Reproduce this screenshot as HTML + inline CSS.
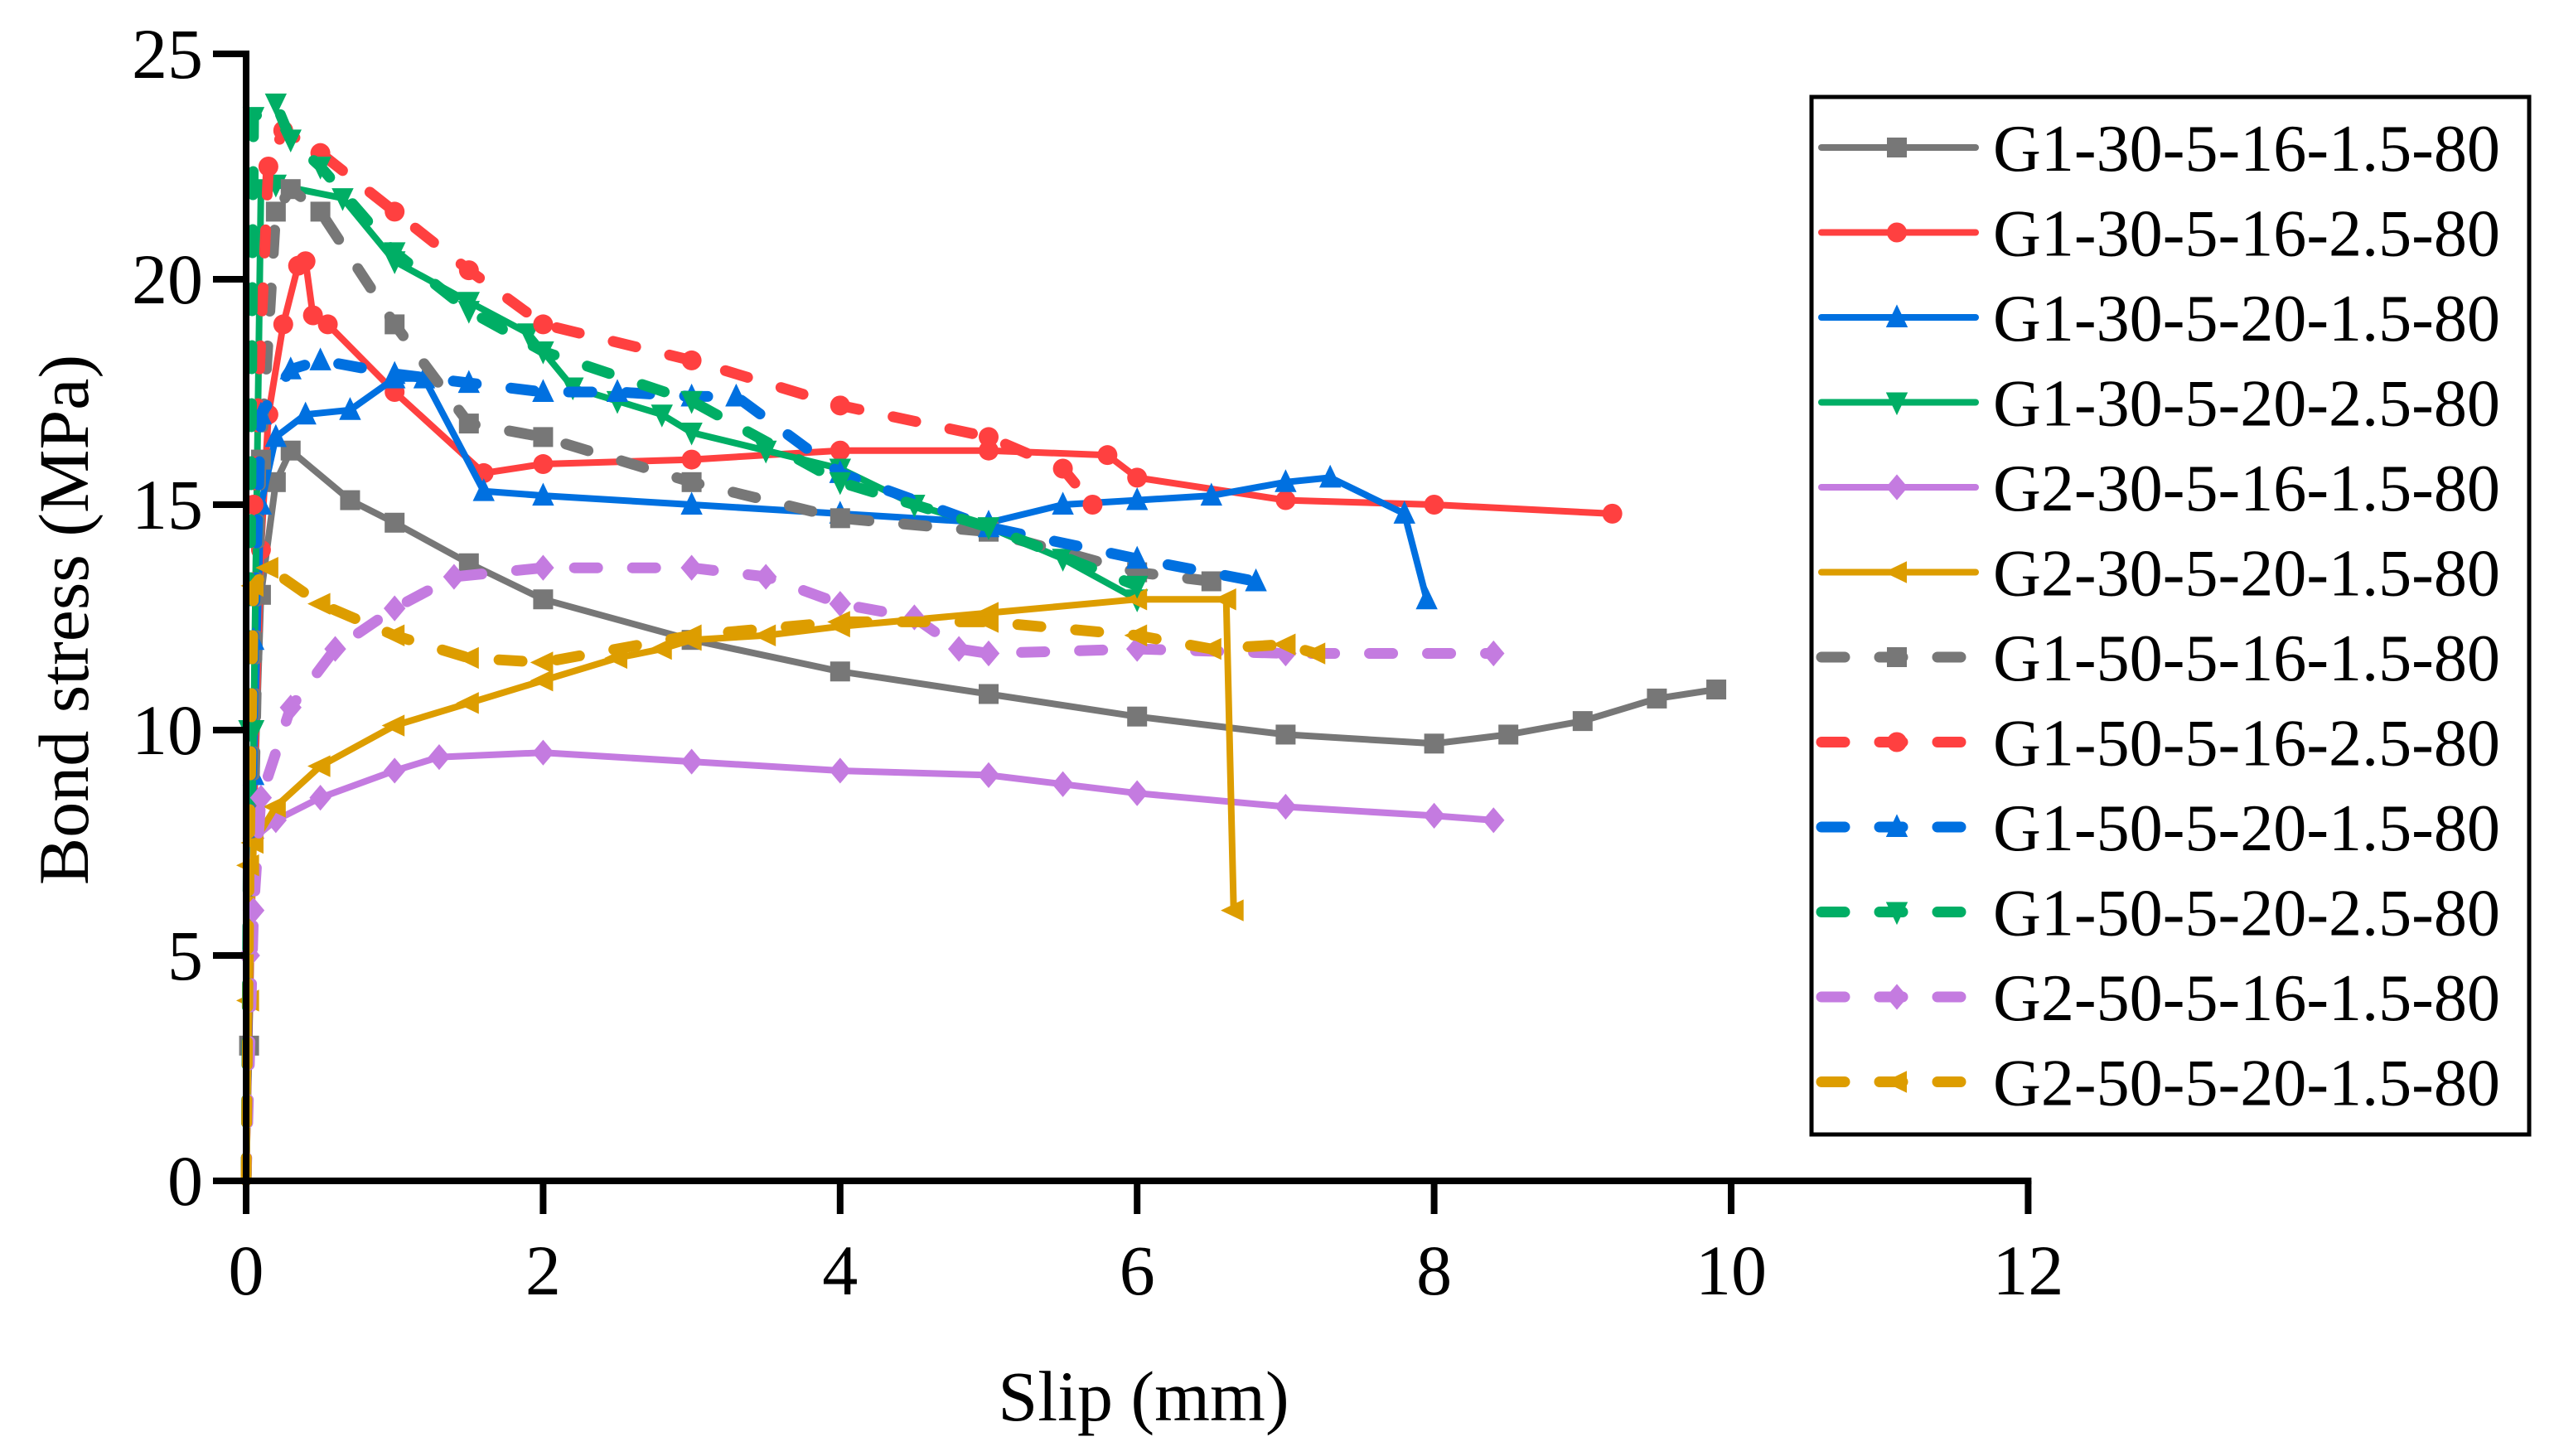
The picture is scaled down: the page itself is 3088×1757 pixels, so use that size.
<!DOCTYPE html>
<html><head><meta charset="utf-8"><style>
html,body{margin:0;padding:0;background:#fff}
svg{display:block}
text{font-family:"Liberation Serif",serif;fill:#000}
</style></head><body>
<svg id="chart" width="3088" height="1757" viewBox="0 0 3088 1757" xmlns="http://www.w3.org/2000/svg">
<g id="plot"></g>
<g id="axes"></g>
<g id="legend"></g>
</svg>
<script>
const xTicks = [0, 2, 4, 6, 8, 10, 12];
const yTicks = [0, 5, 10, 15, 20, 25];
const seriesNames = ["G1-30-5-16-1.5-80","G1-30-5-16-2.5-80","G1-30-5-20-1.5-80","G1-30-5-20-2.5-80","G2-30-5-16-1.5-80","G2-30-5-20-1.5-80","G1-50-5-16-1.5-80","G1-50-5-16-2.5-80","G1-50-5-20-1.5-80","G1-50-5-20-2.5-80","G2-50-5-16-1.5-80","G2-50-5-20-1.5-80"];
const s1x = [0,0.02,0.05,0.1,0.2,0.3,0.7,1,1.5,2,3,4,5,6,7,8,8.5,9,9.5,9.9];
const s1y = [0,3,8,13,15.5,16.2,15.1,14.6,13.7,12.9,12.0,11.3,10.8,10.3,9.9,9.7,9.9,10.2,10.7,10.9];
const s2x = [0,0.05,0.1,0.15,0.25,0.35,0.4,0.45,0.55,1,1.6,2,3,4,5,5.8,6,7,8,9.2];
const s2y = [0,8,14,17,19,20.3,20.4,19.2,19,17.5,15.7,15.9,16.0,16.2,16.2,16.1,15.6,15.1,15.0,14.8];
const s3x = [0,0.05,0.1,0.2,0.4,0.7,1,1.2,1.6,2,3,4,5,5.5,6,6.5,7,7.3,7.8,7.95];
const s3y = [0,9,15,16.5,17,17.1,17.8,17.8,15.3,15.2,15.0,14.8,14.6,15.0,15.1,15.2,15.5,15.6,14.8,12.9];
const s4x = [0,0.05,0.1,0.2,0.65,1,1.5,1.9,2.2,2.5,2.8,3,3.5,4,4.5,5,5.5,6];
const s4y = [0,10,22,22.1,21.8,20.4,19.5,18.8,17.6,17.3,17.0,16.6,16.2,15.8,15.0,14.5,13.8,12.9];
const s5x = [0,0.02,0.05,0.2,0.5,1,1.3,2,3,4,5,5.5,6,7,8,8.4];
const s5y = [0,5,7.6,8,8.5,9.1,9.4,9.5,9.3,9.1,9.0,8.8,8.6,8.3,8.1,8.0];
const s6x = [0,0.02,0.05,0.2,0.5,1,1.5,2,2.5,2.8,3,3.5,4,5,6,6.6,6.65];
const s6y = [0,4,7.5,8.3,9.2,10.1,10.6,11.1,11.6,11.8,12.0,12.1,12.3,12.6,12.9,12.9,6.0];
const s7x = [0,0.1,0.2,0.3,0.5,1,1.5,2,3,4,5,6,6.5];
const s7y = [0,16,21.5,22,21.5,19.0,16.8,16.5,15.5,14.7,14.4,13.5,13.3];
const s8x = [0,0.05,0.15,0.25,0.5,1,1.5,2,3,4,5,5.5,5.7];
const s8y = [0,15,22.5,23.3,22.8,21.5,20.2,19.0,18.2,17.2,16.5,15.8,15.0];
const s9x = [0,0.05,0.1,0.3,0.5,1,1.5,2,2.5,3,3.3,4,5,6,6.8];
const s9y = [0,12,17,18,18.2,17.9,17.7,17.5,17.5,17.4,17.4,15.7,14.5,13.8,13.3];
const s10x = [0,0.02,0.05,0.2,0.3,0.5,1,1.5,2,3,4,5,6];
const s10y = [0,10,23.6,23.9,23.1,22.5,20.6,19.3,18.4,17.3,15.5,14.5,13.2];
const s11x = [0,0.05,0.1,0.3,0.6,1,1.4,2,3,3.5,4,4.5,4.8,5,6,7,8.4];
const s11y = [0,6,8.5,10.5,11.8,12.7,13.4,13.6,13.6,13.4,12.8,12.5,11.8,11.7,11.8,11.7,11.7];
const s12x = [0,0.02,0.05,0.15,0.5,1,1.5,2,3,4,5,6,6.5,7,7.2];
const s12y = [0,7,13.2,13.6,12.8,12.1,11.6,11.5,12.1,12.4,12.4,12.1,11.8,11.9,11.7];

const allX = [s1x,s2x,s3x,s4x,s5x,s6x,s7x,s8x,s9x,s10x,s11x,s12x];
const allY = [s1y,s2y,s3y,s4y,s5y,s6y,s7y,s8y,s9y,s10y,s11y,s12y];
const colors = ["#777777","#FF4040","#0070E0","#00AE65","#C47BE0","#DD9D00","#777777","#FF4040","#0070E0","#00AE65","#C47BE0","#DD9D00"];
const markers = ["square","circle","tri","dtri","diamond","ltri","square","circle","tri","dtri","diamond","ltri"];

const NS = "http://www.w3.org/2000/svg";
const X0 = 297, XPU = 179.2, Y0 = 1425, YPU = 54.4;
const sx = v => X0 + v * XPU;
const sy = v => Y0 - v * YPU;
function mk(tag, attrs, parent){const e=document.createElementNS(NS,tag);for(const k in attrs)e.setAttribute(k,attrs[k]);parent.appendChild(e);return e;}
function marker(type, x, y, r, color, parent){
  let e;
  if(type==="square") e=mk("rect",{x:x-r,y:y-r,width:2*r,height:2*r,fill:color},parent);
  else if(type==="circle") e=mk("circle",{cx:x,cy:y,r:r,fill:color},parent);
  else {
    let p;
    if(type==="tri") p=[[x,y-r*1.3],[x+r*1.1,y+r],[x-r*1.1,y+r]];
    else if(type==="dtri") p=[[x,y+r*1.3],[x+r*1.1,y-r],[x-r*1.1,y-r]];
    else if(type==="ltri") p=[[x-r*1.3,y],[x+r,y-r*1.1],[x+r,y+r*1.1]];
    else p=[[x,y-r*1.3],[x+r*1.1,y],[x,y+r*1.3],[x-r*1.1,y]];
    e=mk("polygon",{points:p.map(q=>q.join(",")).join(" "),fill:color},parent);
  }
  return e;
}
const plot=document.getElementById("plot");
for(let i=0;i<12;i++){
  const g=mk("g",{},plot);
  
  
  const dashed=i>=6;
  const d=allX[i].map((v,j)=>(j?"L":"M")+sx(v).toFixed(1)+","+sy(allY[i][j]).toFixed(1)).join(" ");
  const path=mk("path",{d:d,fill:"none",stroke:colors[i],"stroke-width":dashed?13:8,"stroke-linecap":"round","stroke-linejoin":"round"},g);
  if(dashed) path.setAttribute("stroke-dasharray","28 42");
  
  
  allX[i].forEach((v,j)=>{
    if(j===0) return;
    const m=marker(markers[i],sx(v),sy(allY[i][j]),12,colors[i],g);
    
    
  });
}
const axes=document.getElementById("axes");
const yAxis=mk("line",{x1:X0,y1:sy(25)-4,x2:X0,y2:Y0+4,stroke:"#000","stroke-width":8},axes);


const xAxis=mk("line",{x1:X0-40,y1:Y0,x2:sx(12)+4,y2:Y0,stroke:"#000","stroke-width":8},axes);


yTicks.forEach(v=>{
  const t=mk("line",{x1:X0-40,y1:sy(v),x2:X0,y2:sy(v),stroke:"#000","stroke-width":8},axes);
  
  
  const l=mk("text",{x:X0-52,y:sy(v)+29,"text-anchor":"end","font-size":86},axes);
  l.textContent=v;
  
  
});
xTicks.forEach(v=>{
  const t=mk("line",{x1:sx(v),y1:Y0,x2:sx(v),y2:Y0+40,stroke:"#000","stroke-width":8},axes);
  
  
  const l=mk("text",{x:sx(v),y:1562,"text-anchor":"middle","font-size":86},axes);
  l.textContent=v;
  
  
});
const xt=mk("text",{x:1380,y:1714,"text-anchor":"middle","font-size":86},axes);
xt.textContent="Slip (mm)";


const yt=mk("text",{x:0,y:0,"text-anchor":"middle","font-size":86,transform:"translate(106,748) rotate(-90)"},axes);
yt.textContent="Bond stress (MPa)";



const leg=document.getElementById("legend");
const box=mk("rect",{x:2186,y:117,width:866,height:1252,fill:"#fff",stroke:"#000","stroke-width":5},leg);


for(let i=0;i<12;i++){
  const y=178+i*102.5;
  const g=mk("g",{},leg);
  
  
  const dashed=i>=6;
  const ln=mk("line",{x1:2198,y1:y,x2:2384,y2:y,stroke:colors[i],"stroke-width":dashed?13:8,"stroke-linecap":"round"},g);
  if(dashed) ln.setAttribute("stroke-dasharray","28 42");
  
  
  const m=marker(markers[i],2289,y,12,colors[i],g);
  
  
  const t=mk("text",{x:2405,y:y+28,"font-size":80,textLength:612,lengthAdjust:"spacingAndGlyphs"},g);
  t.textContent=seriesNames[i];
  
  
}
</script>
</body></html>
